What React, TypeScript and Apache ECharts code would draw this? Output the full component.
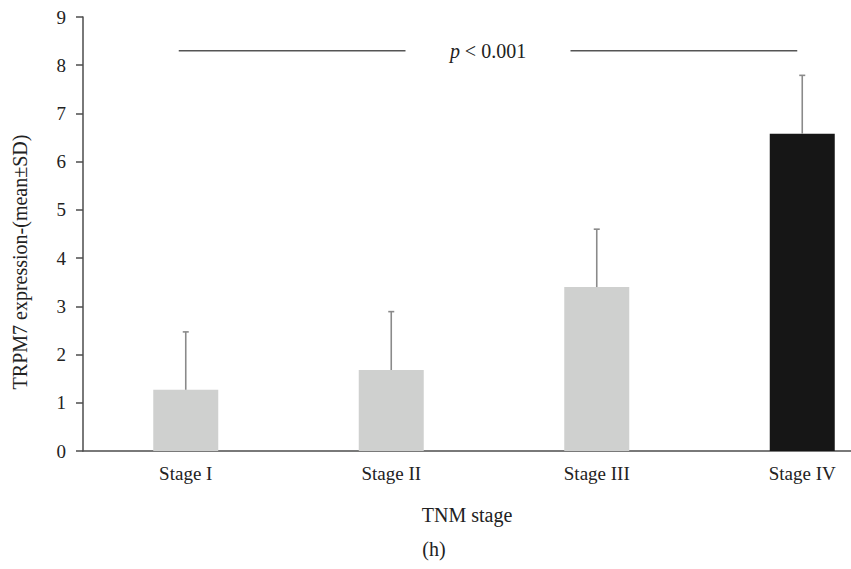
import React, { useEffect, useRef } from "react";
import * as echarts from "echarts";

const categories = ["Stage I", "Stage II", "Stage III", "Stage IV"];
const means = [1.27, 1.68, 3.4, 6.58];
const sds = [1.2, 1.21, 1.2, 1.21];
const barColors = ["#cfd0cf", "#cfd0cf", "#cfd0cf", "#161616"];
const yTicks = [0, 1, 2, 3, 4, 5, 6, 7, 8, 9];
const sigLevel = 8.3;
const sigText = "p < 0.001";

const FONT = "'Liberation Serif', 'DejaVu Serif', serif";

export default function App() {
  const ref = useRef<HTMLDivElement>(null);
  useEffect(() => {
    if (!ref.current) return;
    const chart = echarts.init(ref.current, undefined, { renderer: "svg" });
    const axisColor = "#4d4d4d";
    chart.setOption({
      animation: false,
      textStyle: { fontFamily: FONT },
      grid: { left: 83, width: 822, top: 17, bottom: 118, containLabel: false },
      xAxis: {
        type: "category",
        data: categories,
        axisLine: { lineStyle: { color: axisColor, width: 1.5 } },
        axisTick: { alignWithLabel: true, length: 8, lineStyle: { color: axisColor, width: 1.5 } },
        axisLabel: { color: "#222", fontSize: 19, fontFamily: FONT, margin: 13 },
      },
      yAxis: {
        type: "value",
        min: yTicks[0],
        max: yTicks[yTicks.length - 1],
        interval: 1,
        splitLine: { show: false },
        axisLine: { show: true, lineStyle: { color: axisColor, width: 1.5 } },
        axisTick: { show: true, length: 7, lineStyle: { color: axisColor, width: 1.5 } },
        axisLabel: { color: "#222", fontSize: 19, fontFamily: FONT, margin: 17 },
      },
      graphic: [
        {
          type: "text",
          x: 20,
          y: 262,
          rotation: Math.PI / 2,
          style: {
            text: "TRPM7 expression-(mean±SD)",
            fontSize: 20,
            fontFamily: FONT,
            fill: "#222",
            align: "center",
            verticalAlign: "middle",
          },
        },
        {
          type: "text",
          x: 467,
          y: 515,
          style: {
            text: "TNM stage",
            fontSize: 20,
            fontFamily: FONT,
            fill: "#222",
            align: "center",
            verticalAlign: "middle",
          },
        },
        {
          type: "text",
          x: 434,
          y: 549,
          style: {
            text: "(h)",
            fontSize: 20,
            fontFamily: FONT,
            fill: "#222",
            align: "center",
            verticalAlign: "middle",
          },
        },
      ],
      series: [
        {
          type: "bar",
          barWidth: 65,
          data: means.map((v, i) => ({ value: v, itemStyle: { color: barColors[i] } })),
          z: 2,
        },
        {
          type: "custom",
          z: 3,
          data: means.map((m, i) => [i, m, m + sds[i]]),
          renderItem: (params: any, api: any) => {
            const i = api.value(0);
            const p0 = api.coord([i, api.value(1)]);
            const p1 = api.coord([i, api.value(2)]);
            const style = { stroke: "#8a8a8a", lineWidth: 1.6 };
            return {
              type: "group",
              children: [
                { type: "line", shape: { x1: p0[0], y1: p0[1], x2: p1[0], y2: p1[1] }, style },
                { type: "line", shape: { x1: p1[0] - 3, y1: p1[1], x2: p1[0] + 3, y2: p1[1] }, style },
              ],
            };
          },
        },
        {
          type: "custom",
          z: 3,
          data: [[0, 3, sigLevel]],
          renderItem: (params: any, api: any) => {
            const a = api.coord([api.value(0), api.value(2)]);
            const b = api.coord([api.value(1), api.value(2)]);
            const x0 = a[0] - 7;
            const x3 = b[0] - 5;
            const mid = (x0 + x3) / 2;
            const gap = 82.5;
            const y = a[1];
            const style = { stroke: "#555", lineWidth: 1.5 };
            return {
              type: "group",
              children: [
                { type: "line", shape: { x1: x0, y1: y, x2: mid - gap, y2: y }, style },
                { type: "line", shape: { x1: mid + gap, y1: y, x2: x3, y2: y }, style },
                {
                  type: "text",
                  x: mid,
                  y: y,
                  style: {
                    text: "{i|p}" + sigText.slice(1),
                    fontSize: 20,
                    fontFamily: FONT,
                    fill: "#222",
                    align: "center",
                    verticalAlign: "middle",
                    rich: { i: { fontStyle: "italic", fontSize: 20, fontFamily: FONT, fill: "#222" } },
                  },
                },
              ],
            };
          },
        },
      ],
    });
    return () => chart.dispose();
  }, []);
  return (
    <div style={{ position: "absolute", left: 0, top: 0, width: 851, height: 569, overflow: "hidden", background: "#fff" }}>
      <div ref={ref} style={{ width: 920, height: 569 }} />
    </div>
  );
}
